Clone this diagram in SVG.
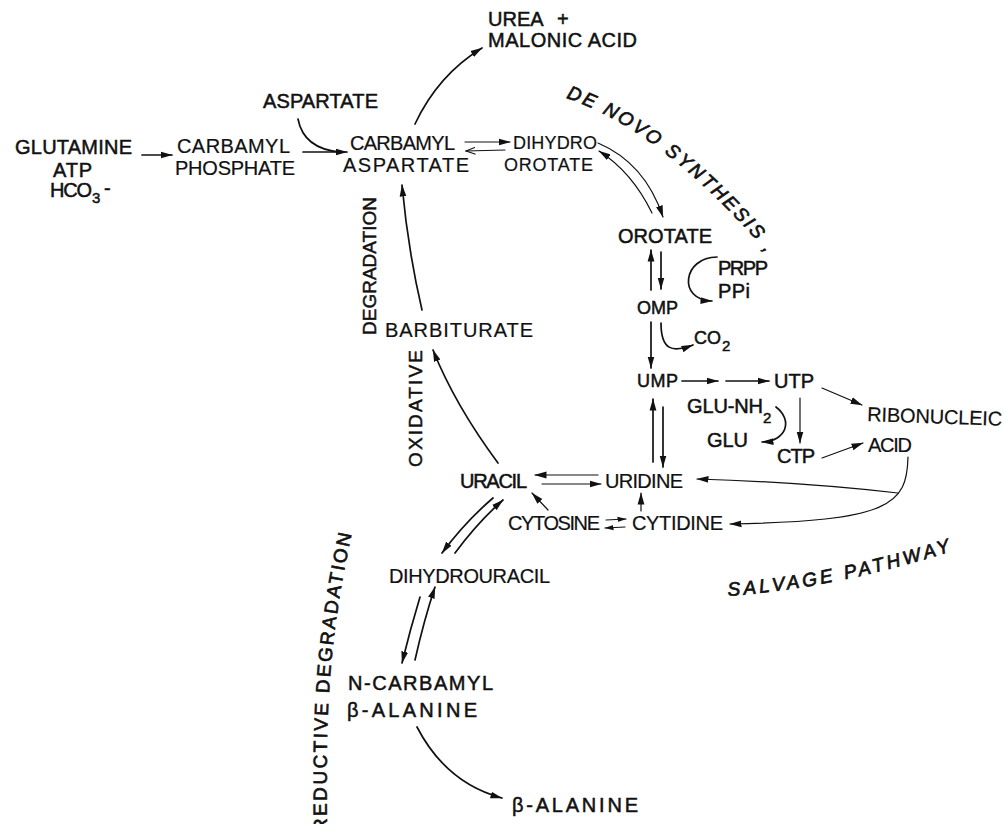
<svg xmlns="http://www.w3.org/2000/svg" width="1005" height="824" viewBox="0 0 1005 824">
<style>
text{font-family:"Liberation Sans","DejaVu Sans",Arial,sans-serif;font-size:20px;fill:#111;stroke:#111;stroke-width:0.2;}
.b{stroke-width:0.5;}
.s{font-size:18px;}
.m{font-size:18px;}
.sub{font-size:15px;}
.lab{font-size:19px;font-style:italic;stroke-width:0.7;}
.c path{fill:none;stroke:#111;stroke-width:1.7;stroke-linecap:round;}
.c path.t{stroke-width:1.2;}
</style>
<defs>
<marker id="ah" viewBox="0 0 12 8" refX="11.5" refY="4" markerWidth="12" markerHeight="8" markerUnits="userSpaceOnUse" orient="auto"><path d="M0,0.6 L12,4 L0,7.4 z" fill="#111"/></marker>
<marker id="as" viewBox="0 0 9 6" refX="8.5" refY="3" markerWidth="9" markerHeight="6" markerUnits="userSpaceOnUse" orient="auto"><path d="M0,0.4 L9,3 L0,5.6 z" fill="#111"/></marker>
<marker id="ao" viewBox="0 0 10 8" refX="9.5" refY="4" markerWidth="10" markerHeight="8" markerUnits="userSpaceOnUse" orient="auto"><path d="M0,0.5 L9.5,4 L0,7.5" fill="none" stroke="#111" stroke-width="1"/></marker>
<path id="pDeNovo" d="M566,98 Q657,128 758,242 L776,268"/>
<path id="pSalv" d="M728,596 Q840,588 964,547"/>
<path id="pRed" d="M327,832 C326,722 326,650 353,528"/>
</defs>
<rect width="1005" height="824" fill="#fff"/>

<g id="glutamine"><text x="15" y="154" textLength="117" class="b">GLUTAMINE</text><text x="53" y="177" textLength="39" class="b">ATP</text><text x="50" y="197" textLength="42" class="b">HCO</text><text x="92" y="203" class="sub b">3</text><text x="104" y="195" class="b">-</text></g>
<g id="carbamyl-phosphate"><text x="177" y="153" textLength="113">CARBAMYL</text><text x="175" y="175" textLength="120">PHOSPHATE</text></g>
<g id="aspartate"><text x="263" y="108" textLength="115" class="b">ASPARTATE</text></g>
<g id="carbamyl-aspartate"><text x="350" y="150" textLength="105">CARBAMYL</text><text x="343" y="172" textLength="126">ASPARTATE</text></g>
<g id="urea"><text x="488" y="26" class="b">UREA<tspan x="557">+</tspan></text><text x="488" y="47" textLength="149" class="b">MALONIC ACID</text></g>
<g id="dihydroorotate"><text x="513" y="149" textLength="84" class="s">DIHYDRO</text><text x="504" y="171" textLength="89" class="s">OROTATE</text></g>
<g id="orotate"><text x="618" y="243" textLength="94" class="b">OROTATE</text></g>
<g id="prpp"><text x="718" y="275" textLength="50" class="b">PRPP</text><text x="718" y="298" textLength="32" class="b">PPi</text></g>
<g id="omp"><text x="637" y="314" textLength="41" class="b m">OMP</text></g>
<g id="co2"><text x="694" y="344" textLength="27" class="b m">CO</text><text x="722" y="351" class="sub b">2</text></g>
<g id="ump"><text x="637" y="387" textLength="41" class="b m">UMP</text></g>
<g id="utp"><text x="774" y="388" textLength="40" class="b">UTP</text></g>
<g id="rna"><text x="867" y="421" textLength="135" transform="rotate(2 867 421)">RIBONUCLEIC</text><text x="868" y="452" textLength="44">ACID</text></g>
<g id="glu-nh2"><text x="687" y="413" textLength="76" class="b">GLU-NH</text><text x="763" y="423" class="sub b">2</text><text x="707" y="447" textLength="41" class="b">GLU</text></g>
<g id="ctp"><text x="777" y="463" textLength="38" class="b">CTP</text></g>
<g id="uridine"><text x="605" y="488" textLength="78">URIDINE</text></g>
<g id="uracil"><text x="460" y="488" textLength="67" class="b">URACIL</text></g>
<g id="cytosine"><text x="508" y="530" textLength="92">CYTOSINE</text></g>
<g id="cytidine"><text x="632" y="530" textLength="91">CYTIDINE</text></g>
<g id="barbiturate"><text x="385" y="337" textLength="148">BARBITURATE</text></g>
<g id="dihydrouracil"><text x="389" y="583" textLength="161">DIHYDROURACIL</text></g>
<g id="n-carbamyl-b-alanine"><text x="348" y="690" textLength="145" class="b">N-CARBAMYL</text><text x="347" y="717" textLength="130" class="b">β-ALANINE</text></g>
<g id="b-alanine"><text x="512" y="812" textLength="126" class="b">β-ALANINE</text></g>

<g id="labels">
<text x="422" y="467" textLength="117" transform="rotate(-90 422 467)" class="b" style="font-size:19px">OXIDATIVE</text>
<text x="376" y="335" textLength="138" transform="rotate(-90 376 335)" class="b" style="font-size:19px">DEGRADATION</text>
<text class="lab"><textPath href="#pDeNovo" textLength="256">DE NOVO SYNTHESIS ,</textPath></text>
<text class="lab"><textPath href="#pSalv" textLength="228">SALVAGE  PATHWAY</textPath></text>
<text class="lab" style="font-style:normal"><textPath href="#pRed" textLength="300">REDUCTIVE DEGRADATION</textPath></text>
</g>

<g id="connectors" class="c">
<path d="M142,155 L172,155" marker-end="url(#ah)"/>
<path d="M303,152 L347,152" marker-end="url(#ah)"/>
<path d="M298,119 C302,140 318,150 340,152"/>
<path d="M415,124 Q438,75 482,48" marker-end="url(#ah)"/>
<path class="t" d="M465,142 L510,142" marker-end="url(#ah)"/>
<path class="t" d="M505,150 L466,151" marker-end="url(#ao)"/>
<path class="t" d="M598,143 Q645,163 663,217" marker-end="url(#ah)"/>
<path class="t" d="M652,213 Q632,172 599,151" marker-end="url(#ah)"/>
<path d="M651,290 L651,250" marker-end="url(#ah)"/>
<path d="M661,252 L661,289" marker-end="url(#ah)"/>
<path d="M717,257 C683,257 677,300 712,301" marker-end="url(#ah)"/>
<path d="M651,322 L651,368" marker-end="url(#ah)"/>
<path d="M661,323 C661,350 672,353 693,345" marker-end="url(#ah)"/>
<path d="M682,381 L718,381" marker-end="url(#ah)"/>
<path d="M726,381 L769,381" marker-end="url(#ah)"/>
<path class="t" d="M822,388 L862,405" marker-end="url(#ah)"/>
<path class="t" d="M800,398 L800,443" marker-end="url(#ah)"/>
<path d="M776,407 C793,420 787,441 762,442" marker-end="url(#ah)"/>
<path class="t" d="M822,458 L863,443" marker-end="url(#ah)"/>
<path class="t" d="M908,457 C907,505 890,521 730,524" marker-end="url(#ah)"/>
<path class="t" d="M898,493 Q800,482 697,479" marker-end="url(#ah)"/>
<path d="M653,462 L653,399" marker-end="url(#ah)"/>
<path d="M663,407 L663,467" marker-end="url(#ah)"/>
<path class="t" d="M598,475 L535,475" marker-end="url(#ah)"/>
<path class="t" d="M542,484 L601,484" marker-end="url(#ah)"/>
<path class="t" d="M606,520 L626,519" marker-end="url(#as)"/>
<path class="t" d="M625,527 L605,528" marker-end="url(#as)"/>
<path class="t" d="M548,510 L532,493" marker-end="url(#ah)"/>
<path class="t" d="M641,511 L641,493" marker-end="url(#ah)"/>
<path d="M498,463 Q455,405 433,350" marker-end="url(#ah)"/>
<path d="M422,310 Q408,250 402,185" marker-end="url(#ah)"/>
<path d="M493,498 Q465,522 442,553" marker-end="url(#ah)"/>
<path d="M455,553 Q478,522 503,500" marker-end="url(#ah)"/>
<path d="M420,597 Q410,630 402,663" marker-end="url(#ah)"/>
<path d="M415,660 Q424,620 435,587" marker-end="url(#ah)"/>
<path d="M417,727 Q446,783 502,798" marker-end="url(#ah)"/>
</g>
</svg>
